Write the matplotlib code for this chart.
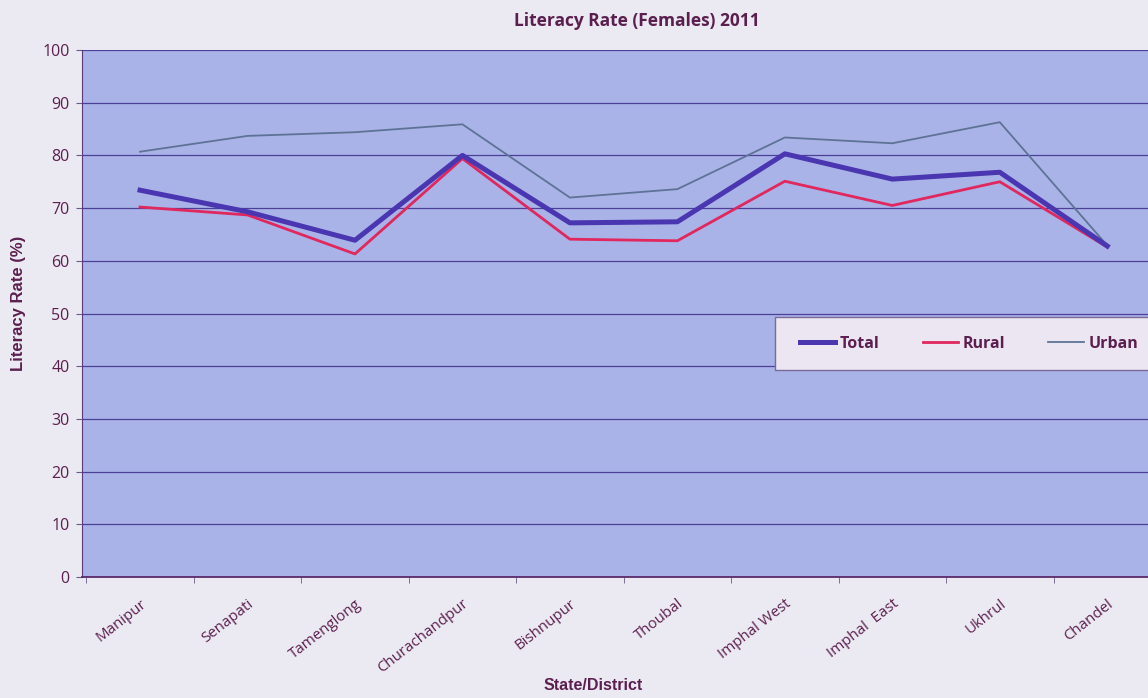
import matplotlib
matplotlib.use("Agg")
import matplotlib.pyplot as plt
from matplotlib.patches import Rectangle
import numpy as np

categories = ["Manipur", "Senapati", "Tamenglong", "Churachandpur", "Bishnupur",
              "Thoubal", "Imphal West", "Imphal  East", "Ukhrul", "Chandel"]
total = [73.4, 69.3, 63.9, 80.0, 67.2, 67.4, 80.3, 75.5, 76.8, 62.8]
rural = [70.2, 68.7, 61.3, 79.4, 64.1, 63.8, 75.1, 70.5, 75.0, 62.6]
urban = [80.7, 83.7, 84.4, 85.9, 72.0, 73.6, 83.4, 82.3, 86.3, 62.9]
yticks = list(range(0, 101, 10))

txt = "#5b1f4f"
plt.rcParams['font.family'] = ['Open Sans', 'DejaVu Sans']

fig = plt.figure(figsize=(11.48, 6.98), dpi=100)
fig.patch.set_facecolor("#ebe9f1")
ax = fig.add_axes([82/1148, 1-577/698, 1079/1148, 527/698])
ax.set_facecolor("#aab3e8")

x = np.arange(len(categories))
ax.plot(x, urban, color="#5d7396", lw=1.3, label="Urban", zorder=3)
ax.plot(x, rural, color="#e0275e", lw=2.0, label="Rural", zorder=4)
ax.plot(x, total, color="#4a36b0", lw=3.6, label="Total", zorder=5)

ax.set_xlim(-0.54, 9.5)
ax.set_ylim(0, 100)
ax.set_yticks(yticks)
ax.set_yticklabels([str(v) for v in yticks], color=txt, fontsize=11.5)
ax.yaxis.grid(True, color="#4b3f98", lw=0.9)
ax.set_axisbelow(True)
ax.set_xticks(x)
ax.set_xticklabels(categories, rotation=38, ha="right", rotation_mode="anchor",
                   color=txt, fontsize=10.8)
ax.set_xticks(np.arange(-0.5, 9.6, 1), minor=True)
ax.tick_params(axis="x", which="major", length=0, pad=14)
ax.tick_params(axis="x", which="minor", length=4, color="#6a5a8a")
ax.tick_params(axis="y", length=4, color="#6a5a8a", pad=5)
for s in ["top", "right"]:
    ax.spines[s].set_visible(False)
ax.spines["left"].set_color("#5a3a7a")
ax.spines["bottom"].set_color("#5a2a6a")
ax.spines["bottom"].set_linewidth(1.3)

ax.set_ylabel("Literacy Rate (%)", color=txt, fontsize=12, fontweight="bold",
              family="Liberation Sans")
ax.yaxis.set_label_coords(-0.052, 0.52)
fig.text(593/1148, 1-686/698, "State/District", color=txt, fontsize=11.5,
         fontweight="bold", family="Liberation Sans", ha="center", va="center")
fig.text(637/1148, 1-21/698, "Literacy Rate (Females) 2011", color=txt, fontsize=12.5,
         fontweight="bold", ha="center", va="center")

# legend box
fig.add_artist(Rectangle((775/1148, 1-370/698), 400/1148, 53/698,
                         transform=fig.transFigure, facecolor="#ece6f2",
                         edgecolor="#7a6a9a", lw=1.0, zorder=10))
h, l = ax.get_legend_handles_labels()
order = [2, 1, 0]
leg = fig.legend([h[i] for i in order], [l[i] for i in order], ncol=3,
                 loc="center left", bbox_to_anchor=(800/1148, 1-344/698),
                 frameon=False, prop={'weight': 'bold', 'size': 11.5},
                 handlelength=2.2, handletextpad=0.3, columnspacing=2.7,
                 borderpad=0, borderaxespad=0)
leg.set_zorder(11)
for t in leg.get_texts():
    t.set_color(txt)

fig.savefig("out.png", dpi=100, facecolor=fig.get_facecolor())
